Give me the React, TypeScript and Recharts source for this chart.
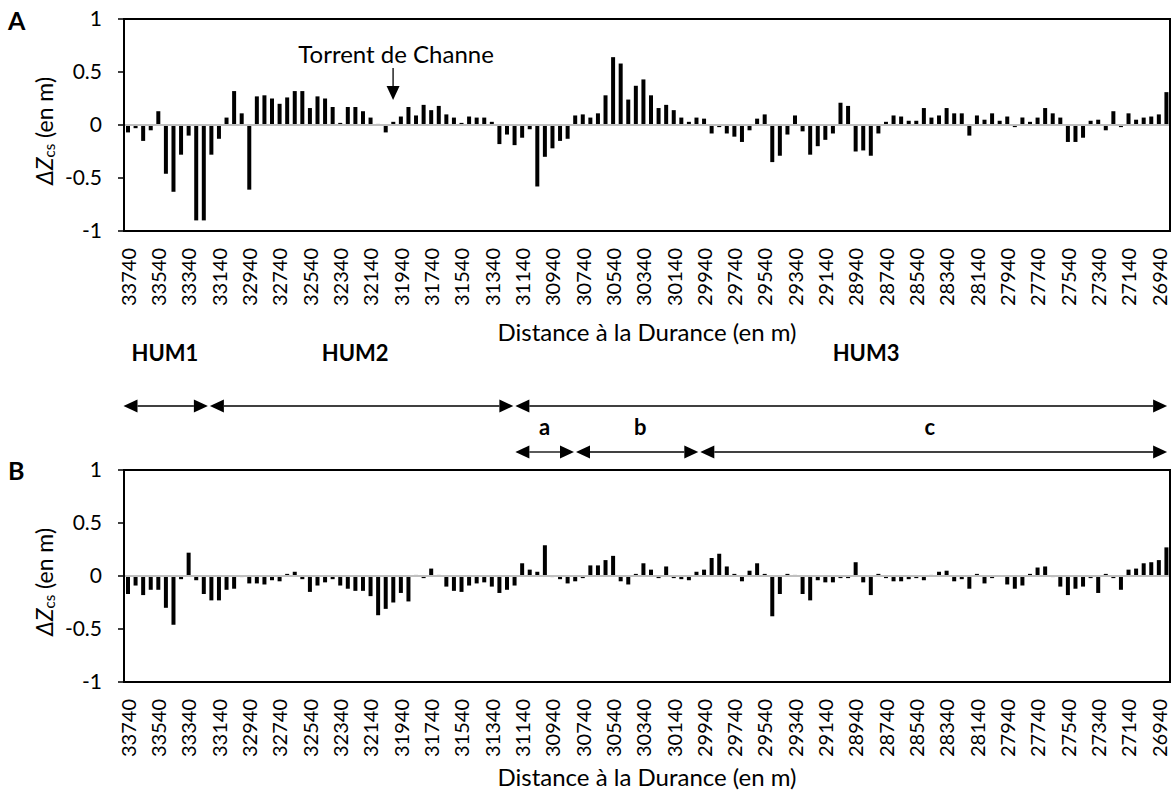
import React from "react";
import { BarChart, Bar, XAxis, YAxis, ReferenceLine } from "recharts";

// distance to the Durance (m), one bar every 50 m
const DISTANCES = [
  33740, 33690, 33640, 33590, 33540, 33490, 33440, 33390, 33340, 33290,
  33240, 33190, 33140, 33090, 33040, 32990, 32940, 32890, 32840, 32790,
  32740, 32690, 32640, 32590, 32540, 32490, 32440, 32390, 32340, 32290,
  32240, 32190, 32140, 32090, 32040, 31990, 31940, 31890, 31840, 31790,
  31740, 31690, 31640, 31590, 31540, 31490, 31440, 31390, 31340, 31290,
  31240, 31190, 31140, 31090, 31040, 30990, 30940, 30890, 30840, 30790,
  30740, 30690, 30640, 30590, 30540, 30490, 30440, 30390, 30340, 30290,
  30240, 30190, 30140, 30090, 30040, 29990, 29940, 29890, 29840, 29790,
  29740, 29690, 29640, 29590, 29540, 29490, 29440, 29390, 29340, 29290,
  29240, 29190, 29140, 29090, 29040, 28990, 28940, 28890, 28840, 28790,
  28740, 28690, 28640, 28590, 28540, 28490, 28440, 28390, 28340, 28290,
  28240, 28190, 28140, 28090, 28040, 27990, 27940, 27890, 27840, 27790,
  27740, 27690, 27640, 27590, 27540, 27490, 27440, 27390, 27340, 27290,
  27240, 27190, 27140, 27090, 27040, 26990, 26940, 26890,
];

// panel A
const DZ_A = [
  -0.07, -0.03, -0.15, -0.05, 0.13, -0.46, -0.63, -0.28, -0.1, -0.9,
  -0.9, -0.28, -0.13, 0.07, 0.32, 0.11, -0.61, 0.27, 0.28, 0.25,
  0.2, 0.26, 0.32, 0.32, 0.16, 0.27, 0.25, 0.17, 0.02, 0.17,
  0.17, 0.13, 0.07, 0.01, -0.07, 0.03, 0.08, 0.17, 0.09, 0.19,
  0.14, 0.18, 0.1, 0.07, 0.02, 0.08, 0.07, 0.07, 0.03, -0.18,
  -0.09, -0.19, -0.12, -0.04, -0.58, -0.3, -0.22, -0.15, -0.13, 0.09,
  0.1, 0.07, 0.11, 0.28, 0.64, 0.58, 0.24, 0.37, 0.43, 0.28,
  0.16, 0.19, 0.14, 0.07, 0.03, 0.07, 0.06, -0.08, -0.02, -0.08,
  -0.11, -0.16, -0.05, 0.06, 0.1, -0.35, -0.29, -0.09, 0.09, -0.06,
  -0.28, -0.2, -0.14, -0.08, 0.21, 0.18, -0.25, -0.24, -0.29, -0.08,
  0.03, 0.09, 0.08, 0.04, 0.04, 0.16, 0.07, 0.09, 0.16, 0.11,
  0.11, -0.1, 0.09, 0.05, 0.11, 0.04, 0.08, -0.02, 0.07, 0.03,
  0.07, 0.16, 0.11, 0.07, -0.16, -0.16, -0.12, 0.04, 0.05, -0.05,
  0.13, -0.02, 0.11, 0.05, 0.07, 0.08, 0.1, 0.31,
];

// panel B
const DZ_B = [
  -0.17, -0.09, -0.18, -0.13, -0.13, -0.3, -0.46, -0.03, 0.22, -0.04,
  -0.17, -0.23, -0.23, -0.13, -0.12, -0.01, -0.07, -0.07, -0.08, -0.04,
  -0.05, 0.02, 0.04, -0.03, -0.15, -0.09, -0.06, -0.03, -0.09, -0.12,
  -0.14, -0.14, -0.19, -0.37, -0.31, -0.25, -0.16, -0.24, 0.01, -0.02,
  0.07, 0.01, -0.1, -0.14, -0.15, -0.09, -0.07, -0.06, -0.1, -0.16,
  -0.13, -0.09, 0.12, 0.06, 0.04, 0.29, -0.01, -0.03, -0.07, -0.05,
  -0.02, 0.1, 0.1, 0.15, 0.19, -0.05, -0.08, 0.02, 0.12, 0.06,
  -0.02, 0.09, -0.02, -0.03, -0.04, 0.04, 0.06, 0.17, 0.21, 0.09,
  0.02, -0.05, 0.05, 0.12, 0.02, -0.38, -0.17, 0.02, 0.01, -0.17,
  -0.23, -0.04, -0.06, -0.06, -0.02, -0.02, 0.13, -0.06, -0.18, 0.02,
  -0.02, -0.05, -0.05, -0.03, -0.02, -0.04, 0.01, 0.04, 0.05, -0.05,
  -0.03, -0.12, 0.02, -0.07, -0.02, 0.0, -0.08, -0.12, -0.09, 0.02,
  0.08, 0.09, -0.01, -0.1, -0.18, -0.12, -0.1, -0.02, -0.16, 0.02,
  -0.02, -0.13, 0.06, 0.07, 0.12, 0.13, 0.15, 0.27,
];

const Y_TICKS = [-1, -0.5, 0, 0.5, 1];

// zones, in bar widths from the left edge of the plot
const HUM_ZONES = [
  { label: "HUM1", from: -0.2, to: 11.2, at: 5.4 },
  { label: "HUM2", from: 11.2, to: 51.5, at: 30.5 },
  { label: "HUM3", from: 51.5, to: 137.75, at: 97.9 },
];
const SUB_ZONES = [
  { label: "a", from: 51.5, to: 59.5, at: 55.5 },
  { label: "b", from: 59.5, to: 75.9, at: 68.1 },
  { label: "c", from: 75.9, to: 137.75, at: 106.3 },
];
const TORRENT_INDEX = 35;

const FONT = "Lato, 'Open Sans', sans-serif";
const W = 1176;
const PLOT_LEFT = 124;
const PLOT_RIGHT = 1170;
const PLOT_TOP = 19;
const PLOT_H = 212;
const AXIS_H = 114;
const Y_AXIS_W = 60;
const TOP_A = 0;
const TOP_B = 451;
const BAND = (PLOT_RIGHT - PLOT_LEFT) / DISTANCES.length;
const bx = (b: number) => PLOT_LEFT + b * BAND;

function DistTick({ x, y, payload }: any) {
  return (
    <text
      transform={`translate(${x},${y + 17}) rotate(-90)`}
      textAnchor="end"
      dominantBaseline="central"
      fontSize={20}
      fontFamily={FONT}
      fill="#000"
    >
      {payload.value}
    </text>
  );
}

function Panel({ values, top }: { values: number[]; top: number }) {
  const data = DISTANCES.map((d, i) => ({ d, v: values[i] }));
  const line = { stroke: "#000", strokeWidth: 2 };
  return (
    <div style={{ position: "absolute", left: 0, top }}>
      <BarChart
        width={W}
        height={PLOT_TOP + PLOT_H + AXIS_H}
        data={data}
        margin={{ top: PLOT_TOP, right: W - PLOT_RIGHT, bottom: 0, left: PLOT_LEFT - Y_AXIS_W }}
        barSize={4}
      >
        <XAxis
          dataKey="d"
          interval={3}
          tickLine={false}
          tickSize={0}
          tickMargin={0}
          axisLine={line}
          height={AXIS_H}
          tick={<DistTick />}
        />
        <YAxis
          domain={[-1, 1]}
          ticks={Y_TICKS}
          width={Y_AXIS_W}
          axisLine={line}
          tickLine={{ stroke: "#000", strokeWidth: 1.5 }}
          tickSize={6}
          tickMargin={16}
          tick={{ fill: "#000", fontSize: 21, fontFamily: FONT }}
        />
        <ReferenceLine y={0} stroke="#bfbfbf" strokeWidth={2} />
        <Bar dataKey="v" fill="#000" isAnimationActive={false} />
      </BarChart>
    </div>
  );
}

function DoubleArrow({ x1, x2, y }: { x1: number; x2: number; y: number }) {
  const L = 14;
  const H = 6.5;
  return (
    <g>
      <line x1={x1 + L} x2={x2 - L} y1={y} y2={y} stroke="#000" strokeWidth={1.3} />
      <polygon points={`${x1},${y} ${x1 + L},${y - H} ${x1 + L},${y + H}`} fill="#000" />
      <polygon points={`${x2},${y} ${x2 - L},${y - H} ${x2 - L},${y + H}`} fill="#000" />
    </g>
  );
}

function YLabel({ cy }: { cy: number }) {
  return (
    <text
      transform={`translate(44,${cy}) rotate(-90)`}
      textAnchor="middle"
      dominantBaseline="central"
      fontSize={23}
      fontFamily={FONT}
      fill="#000"
    >
      <tspan fontStyle="italic">ΔZ</tspan>
      <tspan fontSize={15} dy={5}>cs</tspan>
      <tspan dy={-5}> (en m)</tspan>
    </text>
  );
}

function Overlay() {
  const torrentX = bx(TORRENT_INDEX + 0.5);
  const midX = (PLOT_LEFT + PLOT_RIGHT) / 2;
  return (
    <svg width={W} height={800} style={{ position: "absolute", left: 0, top: 0, pointerEvents: "none" }}>
      <g fontFamily={FONT} fill="#000">
        {[TOP_A, TOP_B].map((t) => (
          <rect
            key={t}
            x={PLOT_LEFT}
            y={t + PLOT_TOP}
            width={PLOT_RIGHT - PLOT_LEFT}
            height={PLOT_H}
            fill="none"
            stroke="#000"
            strokeWidth={2}
          />
        ))}

        <text x={8} y={TOP_A + 30} fontSize={25} fontWeight="bold">A</text>
        <text x={8} y={TOP_B + 29} fontSize={25} fontWeight="bold">B</text>

        <YLabel cy={TOP_A + 131} />
        <YLabel cy={TOP_B + 131} />

        <text x={midX} y={TOP_A + 341} textAnchor="middle" fontSize={24}>Distance à la Durance (en m)</text>
        <text x={midX} y={TOP_B + 335} textAnchor="middle" fontSize={24}>Distance à la Durance (en m)</text>

        <text x={torrentX + 3} y={TOP_A + 63} textAnchor="middle" fontSize={24}>Torrent de Channe</text>
        <line x1={torrentX} x2={torrentX} y1={TOP_A + 68} y2={TOP_A + 88} stroke="#000" strokeWidth={1.3} />
        <polygon
          points={`${torrentX - 6.5},${TOP_A + 86} ${torrentX + 6.5},${TOP_A + 86} ${torrentX},${TOP_A + 100}`}
          fill="#000"
        />

        {HUM_ZONES.map((z) => (
          <g key={z.label}>
            <text x={bx(z.at)} y={361} textAnchor="middle" fontSize={22} fontWeight="bold">{z.label}</text>
            <DoubleArrow x1={bx(z.from) + 1} x2={bx(z.to) - 1} y={406} />
          </g>
        ))}
        {SUB_ZONES.map((z) => (
          <g key={z.label}>
            <text x={bx(z.at)} y={435} textAnchor="middle" fontSize={22} fontWeight="bold">{z.label}</text>
            <DoubleArrow x1={bx(z.from) + 1} x2={bx(z.to) - 1} y={452} />
          </g>
        ))}
      </g>
    </svg>
  );
}

export default function App() {
  return (
    <div style={{ position: "absolute", left: 0, top: 0, width: W, height: 800, background: "#fff" }}>
      <Panel values={DZ_A} top={TOP_A} />
      <Panel values={DZ_B} top={TOP_B} />
      <Overlay />
    </div>
  );
}
